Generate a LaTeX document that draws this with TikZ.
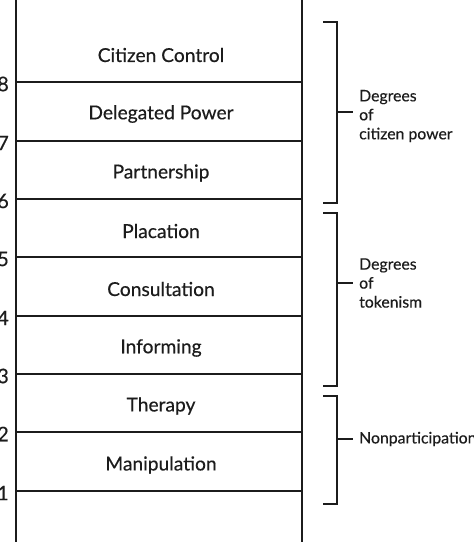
\documentclass[tikz,border=0pt]{standalone}
\usepackage{fontspec}
\setmainfont{Lato}[FakeBold=0.35]
\definecolor{ink}{HTML}{1C1C1C}
\begin{document}
\begin{tikzpicture}[x=1pt,y=-1pt,
  post/.style={draw=ink,line width=2.6pt},
  rung/.style={draw=ink,line width=2.4pt},
  brk/.style={draw=ink,line width=2.4pt},
  rlabel/.style={font=\fontsize{19.2}{22}\selectfont,text=ink,inner sep=0pt},
  num/.style={font=\fontsize{20}{20}\selectfont,text=ink,inner sep=0pt,anchor=east},
  side/.style={font=\fontsize{15.8}{19}\selectfont,text=ink,inner sep=0pt,anchor=west,align=left}]
\clip (0,0) rectangle (474,542);
\fill[white] (0,0) rectangle (474,542);
% posts
\coordinate (LT) at (16,-5); \coordinate (LB) at (16,547);
\coordinate (RT) at (302,-5); \coordinate (RB) at (302,547);
\draw[post] (LT) -- (LB);
\draw[post] (RT) -- (RB);
% rungs
\foreach \n/\y in {8/82,7/141,6/199,5/257,4/316,3/374,2/432,1/491}{
  \coordinate (l\n) at (16,\y); \coordinate (r\n) at (302,\y);
  \draw[rung] (l\n) -- (r\n);
  \node[num] (n\n) at (9,\y+2) {\n};
}
% rung labels
\node[rlabel] (t8) at (161,55) {Citizen Control};
\node[rlabel] (t7) at (161,114) {Delegated Power};
\node[rlabel] (t6) at (161,173) {Partnership};
\node[rlabel] (t5) at (161,231) {Placation};
\node[rlabel] (t4) at (161,289) {Consultation};
\node[rlabel] (t3) at (161,348) {Informing};
\node[rlabel] (t2) at (161,406) {Therapy};
\node[rlabel] (t1) at (161,465) {Manipulation};
% brackets
\coordinate (a1) at (323,22); \coordinate (a2) at (337,22);
\coordinate (a3) at (337,203); \coordinate (a4) at (323,203);
\coordinate (am) at (337,112); \coordinate (at) at (353,112);
\draw[brk] (a1) -- (a2) -- (a3) -- (a4);
\draw[brk] (am) -- (at);
\node[side] (s1) at (359,116) {Degrees\\of\\citizen power};
\coordinate (b1) at (323,213); \coordinate (b2) at (337,213);
\coordinate (b3) at (337,386); \coordinate (b4) at (323,386);
\coordinate (bm) at (337,283); \coordinate (bt) at (353,283);
\draw[brk] (b1) -- (b2) -- (b3) -- (b4);
\draw[brk] (bm) -- (bt);
\node[side] (s2) at (359,283) {Degrees\\of\\tokenism};
\coordinate (c1) at (323,396); \coordinate (c2) at (337,396);
\coordinate (c3) at (337,504); \coordinate (c4) at (323,504);
\coordinate (cm) at (337,439); \coordinate (ct) at (353,439);
\draw[brk] (c1) -- (c2) -- (c3) -- (c4);
\draw[brk] (cm) -- (ct);
\node[side] (s3) at (359,439) {Nonparticipation};
\end{tikzpicture}
\end{document}
